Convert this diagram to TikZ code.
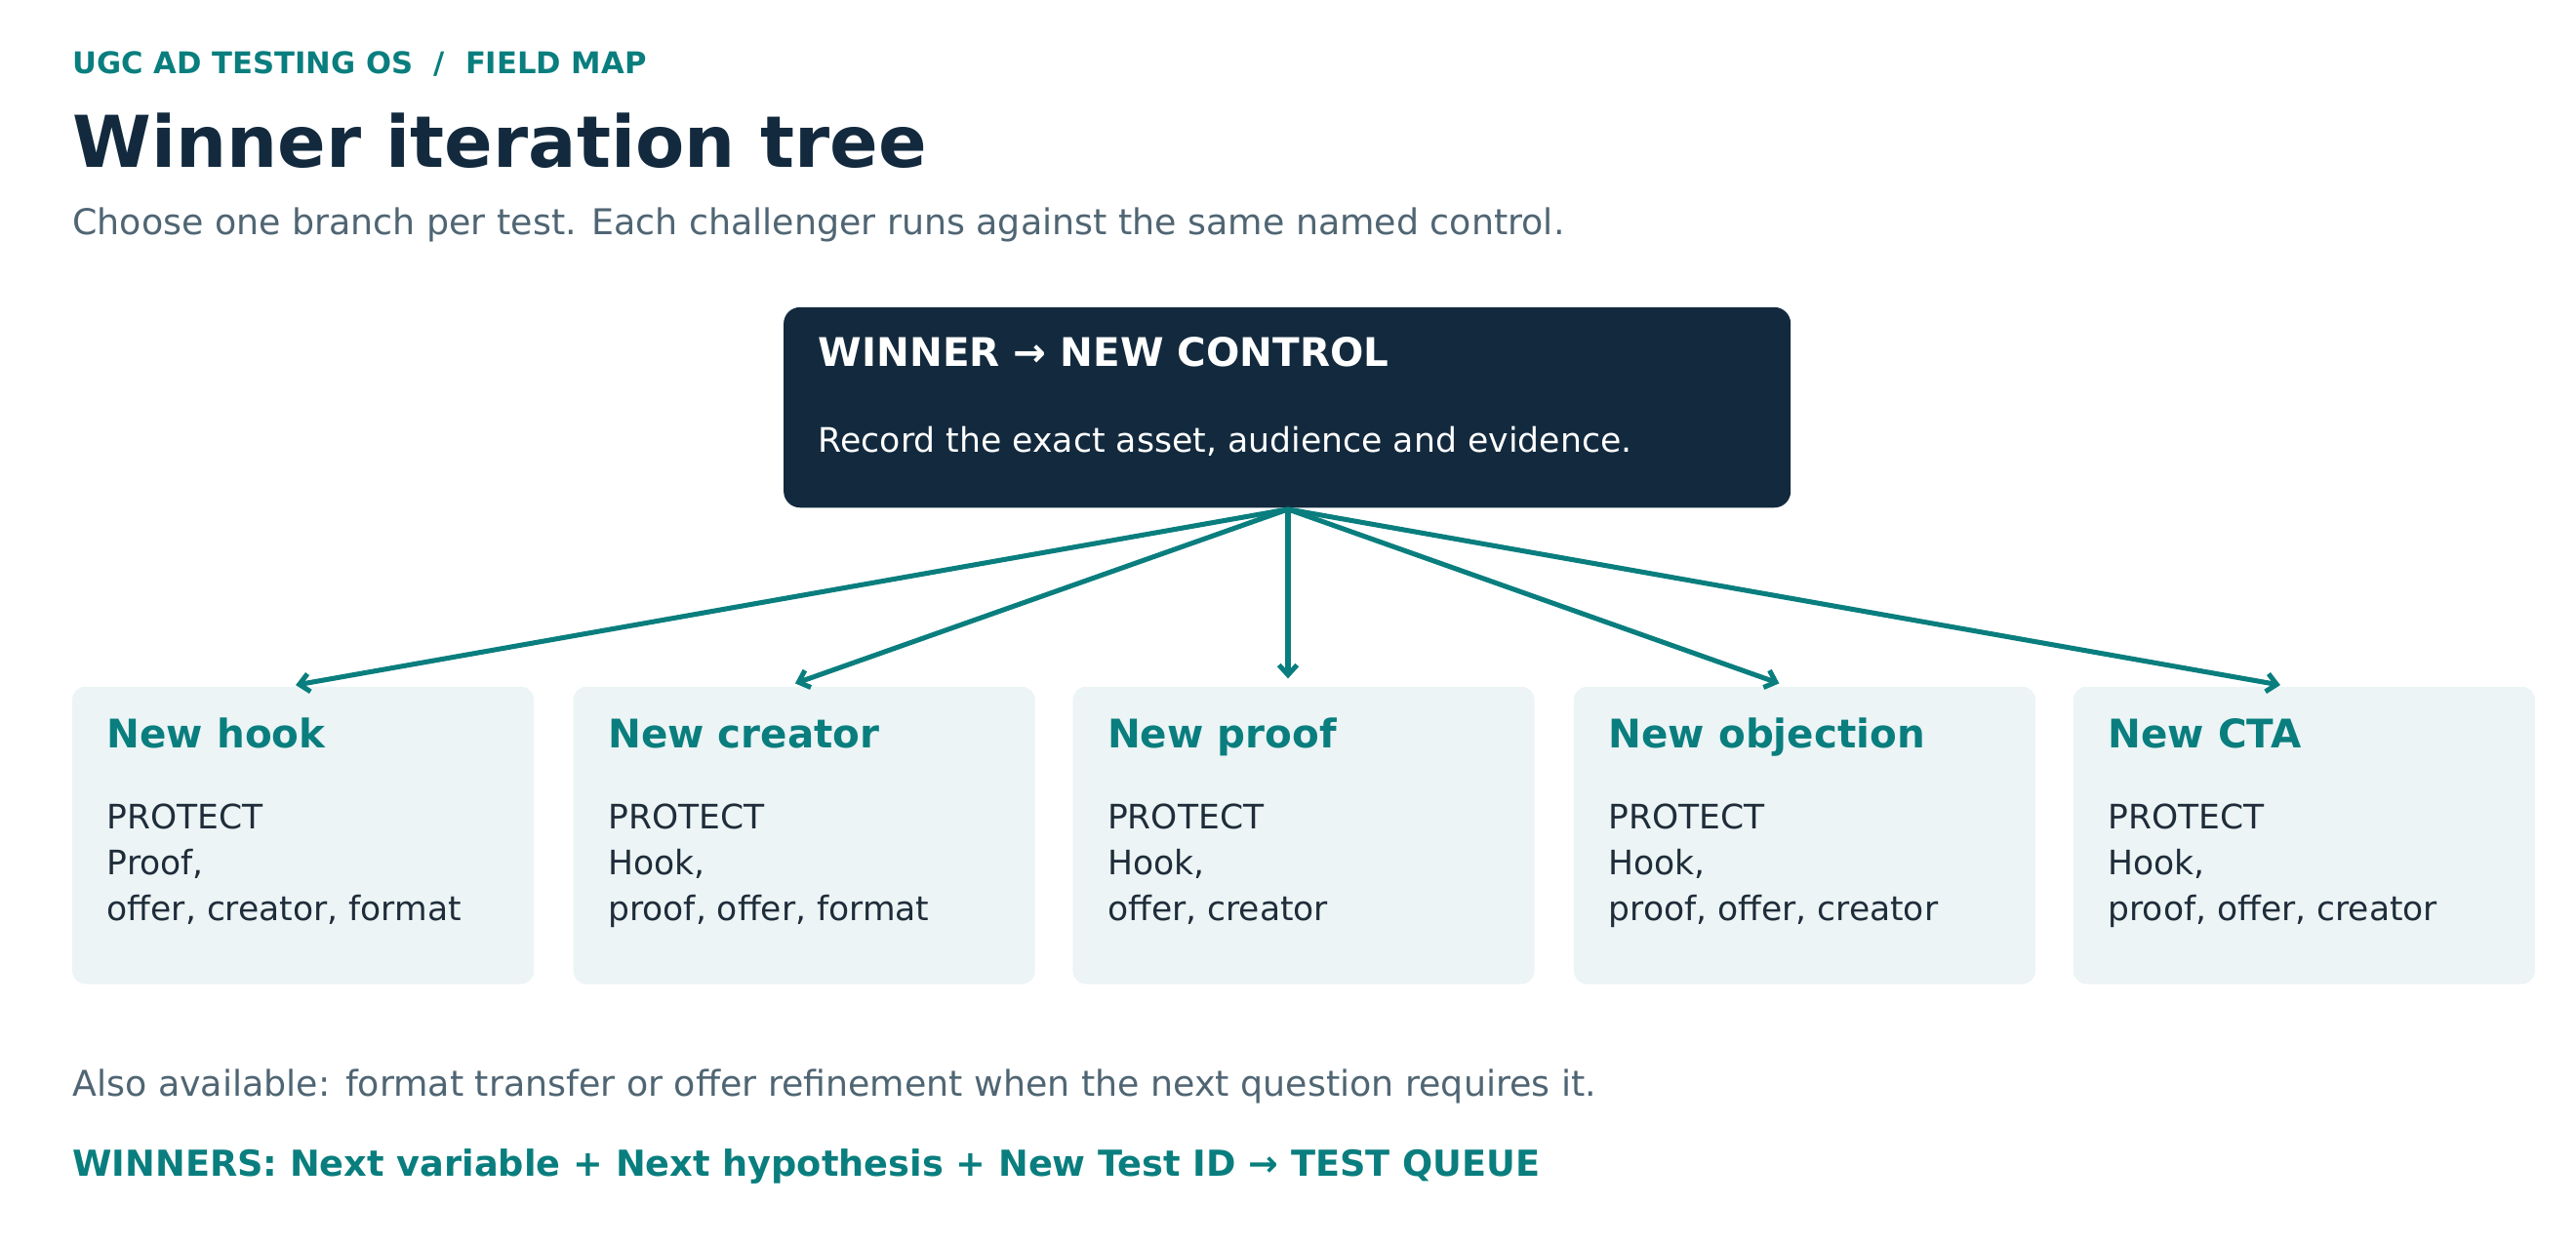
\documentclass[tikz,border=0pt]{standalone}
\usepackage{fontspec}
\setmainfont{DejaVu Sans}
\usetikzlibrary{positioning,arrows.meta}
\definecolor{navy}{HTML}{132A3E}
\definecolor{teal}{HTML}{0A7E7E}
\definecolor{slate}{HTML}{4F6573}
\definecolor{cardbg}{HTML}{ECF4F5}
\definecolor{ink}{HTML}{1F2D3A}
\begin{document}
\begin{tikzpicture}[x=1pt,y=-1pt,
  txt/.style={anchor=base west,inner sep=0pt},
  card/.style={fill=cardbg,rounded corners=8pt},
  cardtitle/.style={txt,text=teal,font=\fontsize{24}{28}\selectfont\bfseries},
  cardbody/.style={anchor=north west,inner sep=0pt,text=ink,font=\fontsize{20.5}{28}\selectfont,align=left},
  link/.style={-{Straight Barb[length=6pt,width=11pt]},line width=3pt,draw=teal}]

\useasboundingbox (0,0) rectangle (1568,758);

% header
\node[txt,text=teal,font=\fontsize{18.2}{20}\selectfont\bfseries] (kicker) at (44,45) {UGC AD TESTING OS\ \ /\ \ FIELD MAP};
\node[txt,text=navy,font=\fontsize{43.5}{48}\selectfont\bfseries] (title) at (44,102) {Winner iteration tree};
\node[txt,text=slate,font=\fontsize{21.6}{24}\selectfont] (sub) at (44,143) {Choose one branch per test. Each challenger runs against the same named control.};

% top box
\fill[navy,rounded corners=10pt] (477,187) rectangle (1090,309);
\node[txt,text=white,font=\fontsize{24}{26}\selectfont\bfseries] (wtitle) at (498,223) {WINNER \textrightarrow\ NEW CONTROL};
\node[txt,text=white,font=\fontsize{20.6}{24}\selectfont] (wbody) at (498,275) {Record the exact asset, audience and evidence.};
\coordinate (root) at (784,310);

% cards
\foreach \x/\name/\head/\prot/\rest in {
  44/hook/New hook/{Proof,}/{offer, creator, format},
  349/creator/New creator/{Hook,}/{proof, offer, format},
  653/proof/New proof/{Hook,}/{offer, creator},
  958/objection/New objection/{Hook,}/{proof, offer, creator},
  1262/cta/New CTA/{Hook,}/{proof, offer, creator}}{
  \fill[card] (\x,418) rectangle ++(281,181);
  \node[cardtitle] (\name-t) at (\x+21,455) {\head};
  \node[cardbody] (\name-b) at (\x+21,489) {PROTECT\\\prot\\\rest};
}
\coordinate (hook-in) at (180,417);
\coordinate (creator-in) at (484,416);
\coordinate (proof-in) at (784,413);
\coordinate (objection-in) at (1083,416);
\coordinate (cta-in) at (1388,417);
\foreach \n in {hook,creator,proof,objection,cta}
  \draw[link] (root) -- (\n-in);

% footer
\node[txt,text=slate,font=\fontsize{21.6}{24}\selectfont] (also) at (44,667) {Also available: format transfer or offer refinement when the next question requires it.};
\node[txt,text=teal,font=\fontsize{21.8}{24}\selectfont\bfseries] (queue) at (44,716) {WINNERS: Next variable + Next hypothesis + New Test ID \textrightarrow\ TEST QUEUE};
\end{tikzpicture}
\end{document}
